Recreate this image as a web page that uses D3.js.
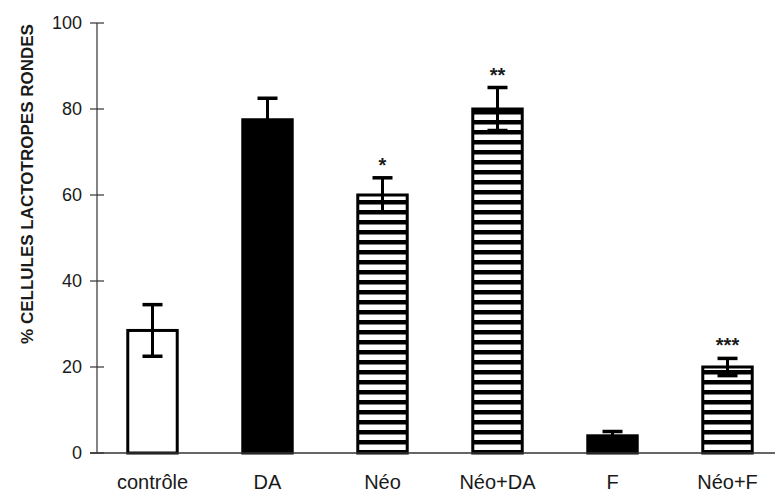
<!DOCTYPE html>
<html>
<head>
<meta charset="utf-8">
<script src="https://cdn.jsdelivr.net/npm/d3@7"></script>
<style>
  html, body { margin: 0; padding: 0; background: #fff; }
  svg { display: block; }
  text { font-family: "Liberation Sans", Arial, sans-serif; fill: #1a1a1a; }
</style>
</head>
<body>
<div id="chart"></div>
<script>
// Treatment groups and their mean % of round lactotroph cells
const categories = ["contrôle", "DA", "Néo", "Néo+DA", "F", "Néo+F"];
const means      = [28.5, 77.5, 60, 80, 4, 20];
const errors     = [6, 5, 4, 5, 1, 2];
const fills      = ["white", "black", "stripes", "stripes", "black", "stripes"];
const stars      = ["", "", "*", "**", "", "***"];
const yTicks     = [0, 20, 40, 60, 80, 100];
const yTitle     = "% CELLULES LACTOTROPES RONDES";

const W = 775, H = 501;
const svg = d3.select("#chart").append("svg")
  .attr("width", W).attr("height", H);

// horizontal hatch pattern for the neomycin groups
const defs = svg.append("defs");
const pat = defs.append("pattern")
  .attr("id", "stripes")
  .attr("patternUnits", "userSpaceOnUse")
  .attr("width", 10).attr("height", 10);
pat.append("rect").attr("width", 10).attr("height", 10).attr("fill", "white");
pat.append("rect").attr("y", 0).attr("width", 10).attr("height", 4.5).attr("fill", "black");

const x = d3.scaleBand()
  .domain(categories)
  .range([95, 785])
  .paddingInner(0.57)
  .paddingOuter(0.285);

const y = d3.scaleLinear().domain([0, 100]).range([453, 23]);

// y axis: vertical line with ticks crossing it
const yAxis = svg.append("g").attr("transform", "translate(97,0)");
yAxis.append("line")
  .attr("x1", 0).attr("x2", 0)
  .attr("y1", y(100)).attr("y2", y(0))
  .attr("stroke", "#333").attr("stroke-width", 1.2);
yAxis.selectAll("line.tick").data(yTicks).enter().append("line")
  .attr("class", "tick")
  .attr("x1", -7).attr("x2", 7)
  .attr("y1", d => y(d)).attr("y2", d => y(d))
  .attr("stroke", "#333").attr("stroke-width", 1.2);
yAxis.selectAll("text").data(yTicks).enter().append("text")
  .attr("x", -15).attr("y", d => y(d))
  .attr("dy", "0.36em")
  .attr("text-anchor", "end")
  .style("font-size", "18px")
  .text(d => d);

// y axis title
svg.append("text")
  .attr("transform", `translate(33,${y(0) - 269}) rotate(-90)`)
  .attr("text-anchor", "middle")
  .style("font-size", "17px")
  .style("font-weight", "bold")
  .text(yTitle);

// bars
const i = d3.range(categories.length);
svg.selectAll("rect.bar").data(i).enter().append("rect")
  .attr("class", "bar")
  .attr("x", d => x(categories[d]))
  .attr("y", d => y(means[d]))
  .attr("width", x.bandwidth())
  .attr("height", d => y(0) - y(means[d]))
  .attr("fill", d => fills[d] === "stripes" ? "url(#stripes)" : fills[d])
  .attr("stroke", "black")
  .attr("stroke-width", 3);

// x axis baseline
svg.append("line")
  .attr("x1", 90).attr("x2", 775)
  .attr("y1", y(0)).attr("y2", y(0))
  .attr("stroke", "#333").attr("stroke-width", 1.4);

// error bars
const eb = svg.selectAll("g.err").data(i).enter().append("g")
  .attr("class", "err")
  .attr("transform", d => `translate(${x(categories[d]) + x.bandwidth() / 2},0)`);
eb.append("line")
  .attr("y1", d => y(means[d] - errors[d])).attr("y2", d => y(means[d] + errors[d]))
  .attr("stroke", "black").attr("stroke-width", 3);
eb.append("line")
  .attr("x1", -10).attr("x2", 10)
  .attr("y1", d => y(means[d] + errors[d])).attr("y2", d => y(means[d] + errors[d]))
  .attr("stroke", "black").attr("stroke-width", 3.5);
eb.append("line")
  .attr("x1", -10).attr("x2", 10)
  .attr("y1", d => y(means[d] - errors[d])).attr("y2", d => y(means[d] - errors[d]))
  .attr("stroke", "black").attr("stroke-width", 3.5);

// significance stars
eb.append("text")
  .attr("y", d => y(means[d] + errors[d]) - 6)
  .attr("text-anchor", "middle")
  .style("font-size", "20px")
  .style("font-weight", "bold")
  .text(d => stars[d]);

// category labels
svg.selectAll("text.cat").data(categories).enter().append("text")
  .attr("class", "cat")
  .attr("x", d => x(d) + x.bandwidth() / 2)
  .attr("y", 489)
  .attr("text-anchor", "middle")
  .style("font-size", "20px")
  .text(d => d);
</script>
</body>
</html>
